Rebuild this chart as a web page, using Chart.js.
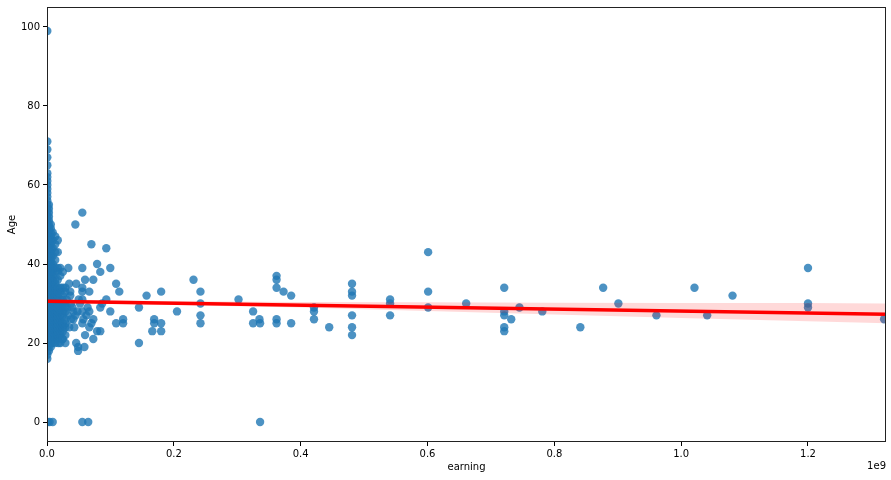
<!DOCTYPE html>
<html lang="en">
<head>
  <meta charset="UTF-8" />
  <title>earning vs Age</title>
  <style>
    html, body { margin: 0; padding: 0; background: #fff; }
    #wrap { width: 891px; height: 480px; }
  </style>
</head>
<body>
<div id="wrap"><canvas id="regChart" width="891" height="480"></canvas></div>

<script src="https://cdn.jsdelivr.net/npm/chart.js"></script>
<script>
  // earning is in units of 1e9
  const xTicks = [0, 0.2, 0.4, 0.6, 0.8, 1.0, 1.2];
  const yTicks = [0, 20, 40, 60, 80, 100];

  // dense block of small earnings, one column per earning value
  const clusterEarning = [0.0005, 0.003, 0.006, 0.009, 0.013, 0.017, 0.021, 0.025, 0.029];
  const clusterAges = [
    [16, 17, 18, 19, 20, 21, 22, 23, 24, 25, 26, 27, 28, 29, 30, 31, 32, 33, 34, 35, 36, 37, 38, 39, 40,
     41, 42, 43, 44, 45, 46, 47, 48, 49, 50, 51, 52, 53, 54, 55, 56, 57, 58, 59, 60, 61, 62, 63, 65, 67, 69, 71, 99],
    [18, 19, 20, 21, 22, 23, 24, 25, 26, 27, 28, 29, 30, 31, 32, 33, 34, 35, 36, 37, 38, 39, 40,
     41, 42, 43, 44, 45, 46, 47, 48, 49, 50, 51, 52, 53, 54, 55],
    [19, 20, 21, 22, 23, 24, 25, 26, 27, 28, 29, 30, 31, 32, 33, 34, 35, 36, 37, 38, 39, 40,
     41, 42, 43, 44, 45, 46, 47, 48, 49, 50],
    [20, 21, 22, 23, 24, 25, 26, 27, 28, 29, 30, 31, 32, 33, 34, 35, 36, 37, 38, 39, 40, 42, 44, 46, 48],
    [20, 21, 22, 23, 24, 25, 26, 27, 28, 29, 30, 31, 32, 33, 34, 35, 36, 38, 39, 41, 43, 45, 47],
    [21, 22, 23, 24, 25, 26, 27, 28, 29, 30, 31, 32, 33, 34, 36, 38, 39, 43, 46],
    [20, 22, 23, 24, 25, 26, 27, 28, 29, 30, 31, 33, 34, 37, 39],
    [21, 23, 24, 25, 27, 28, 30, 31, 32, 34, 38],
    [20, 22, 24, 25, 26, 28, 29, 30, 33, 34]
  ];

  // scattered points [earning, age]
  const spreadPoints = [
    [0.0557, 53], [0.0447, 50], [0.070, 45], [0.0935, 44], [0.079, 40], [0.0557, 39], [0.0336, 39],
    [0.0998, 39], [0.084, 38], [0.060, 36], [0.073, 36], [0.109, 35], [0.114, 33], [0.157, 32],
    [0.035, 35], [0.046, 35], [0.0557, 34], [0.0557, 33], [0.0667, 33], [0.0367, 33], [0.0367, 32],
    [0.0557, 31], [0.0935, 31], [0.087, 30], [0.084, 29], [0.145, 29], [0.0998, 28], [0.0667, 28],
    [0.0557, 28], [0.0415, 28], [0.0415, 26], [0.0573, 26], [0.073, 26], [0.109, 25], [0.12, 26],
    [0.12, 25], [0.0557, 25], [0.0667, 24], [0.07, 25], [0.043, 24], [0.035, 24], [0.079, 23],
    [0.084, 23], [0.060, 22], [0.073, 21], [0.145, 20], [0.046, 20], [0.049, 19], [0.049, 18],
    [0.059, 19], [0.018, 20], [0.024, 21], [0.038, 30], [0.040, 29], [0.033, 27], [0.045, 27],
    [0.038, 26], [0.050, 31], [0.048, 28], [0.062, 27], [0.064, 29], [0.052, 30], [0.031, 31], [0.032, 29],
    [0.166, 23], [0.169, 26], [0.169, 25], [0.180, 33], [0.180, 25], [0.180, 23], [0.205, 28],
    [0.231, 36], [0.242, 33], [0.242, 30], [0.242, 27], [0.242, 25], [0.302, 31], [0.325, 28],
    [0.325, 25], [0.335, 26], [0.336, 25], [0.362, 37], [0.362, 36], [0.362, 34], [0.362, 26],
    [0.362, 25], [0.373, 33], [0.385, 32], [0.385, 25], [0.421, 29], [0.421, 28], [0.421, 26],
    [0.445, 24], [0.481, 35], [0.481, 33], [0.481, 32], [0.481, 27], [0.481, 24], [0.481, 22],
    [0.541, 31], [0.541, 30], [0.541, 27], [0.601, 43], [0.601, 33], [0.601, 29], [0.661, 30],
    [0.721, 34], [0.721, 28], [0.721, 27], [0.721, 24], [0.721, 23], [0.732, 26], [0.745, 29],
    [0.781, 28], [0.841, 24], [0.877, 34], [0.901, 30], [0.961, 27], [1.021, 34], [1.041, 27],
    [1.081, 32], [1.2, 39], [1.2, 30], [1.2, 29], [1.32, 26]
  ];

  const zeroAgePoints = [[0.001, 0], [0.004, 0], [0.009, 0], [0.0557, 0], [0.065, 0], [0.336, 0]];

  // fitted line and confidence band
  const trendX = [0, 1.323];
  const trendY = [30.6, 27.3];
  const bandX = [0, 0.2, 0.4, 0.6, 0.8, 1.0, 1.2, 1.323];
  const bandLow = [30.1, 29.6, 29.0, 28.1, 27.2, 26.3, 25.5, 25.0];
  const bandHigh = [31.1, 30.6, 30.4, 30.3, 30.2, 30.1, 30.1, 30.0];

  const xMax = 1.323;
  const yMin = -5.06, yMax = 105.06;

  const scatterData = [];
  clusterEarning.forEach((e, i) => {
    clusterAges[i].forEach(a => scatterData.push({ x: e, y: a }));
  });
  spreadPoints.concat(zeroAgePoints).forEach(p => scatterData.push({ x: p[0], y: p[1] }));

  const frame = {
    id: 'frame',
    afterDraw(chart) {
      const { ctx, chartArea: a } = chart;
      ctx.save();
      ctx.strokeStyle = '#222';
      ctx.lineWidth = 1;
      ctx.strokeRect(Math.round(a.left) + 0.5, Math.round(a.top) + 0.5,
        Math.round(a.right - a.left) - 1, Math.round(a.bottom - a.top) - 1);
      ctx.fillStyle = '#000';
      ctx.font = '10px "DejaVu Sans"';
      ctx.textAlign = 'right';
      ctx.textBaseline = 'middle';
      ctx.fillText('1e9', a.right, 466);
      ctx.restore();
    }
  };

  const font = { family: '"DejaVu Sans"', size: 10 };

  new Chart(document.getElementById('regChart'), {
    type: 'scatter',
    data: {
      datasets: [
        {
          type: 'line',
          data: trendX.map((x, i) => ({ x, y: trendY[i] })),
          borderColor: '#ff0000',
          borderWidth: 3.5,
          pointRadius: 0,
          order: 0
        },
        {
          type: 'line',
          data: bandX.map((x, i) => ({ x, y: bandHigh[i] })),
          borderWidth: 0,
          pointRadius: 0,
          backgroundColor: 'rgba(255,0,0,0.15)',
          fill: '+1',
          order: 1
        },
        {
          type: 'line',
          data: bandX.map((x, i) => ({ x, y: bandLow[i] })),
          borderWidth: 0,
          pointRadius: 0,
          fill: false,
          order: 1
        },
        {
          data: scatterData,
          backgroundColor: 'rgba(31,119,180,0.8)',
          borderWidth: 0,
          pointRadius: 4.2,
          clip: 0,
          order: 2
        }
      ]
    },
    options: {
      responsive: false,
      animation: false,
      layout: { padding: { top: 7, right: 5, left: 0, bottom: 0 } },
      plugins: { legend: { display: false }, tooltip: { enabled: false } },
      scales: {
        x: {
          type: 'linear',
          min: 0,
          max: xMax,
          afterBuildTicks: s => { s.ticks = xTicks.map(v => ({ value: v })); },
          afterFit: s => { s.height = 38; s.paddingLeft = 0; s.paddingRight = 0; },
          ticks: { color: '#000', font, padding: 2, maxRotation: 0, callback: v => v.toFixed(1) },
          grid: { drawOnChartArea: false, drawTicks: true, tickLength: 4, color: '#000' },
          border: { display: false },
          title: { display: true, text: 'earning', color: '#000', font, padding: { top: 4, bottom: 7 } }
        },
        y: {
          min: yMin,
          max: yMax,
          afterBuildTicks: s => { s.ticks = yTicks.map(v => ({ value: v })); },
          afterFit: s => { s.width = 47; s.paddingTop = 0; s.paddingBottom = 0; },
          ticks: { color: '#000', font, padding: 3 },
          grid: { drawOnChartArea: false, drawTicks: true, tickLength: 4, color: '#000' },
          border: { display: false },
          title: { display: true, text: 'Age', color: '#000', font, padding: { top: 6, bottom: 0 } }
        }
      }
    },
    plugins: [frame]
  });
</script>
</body>
</html>
